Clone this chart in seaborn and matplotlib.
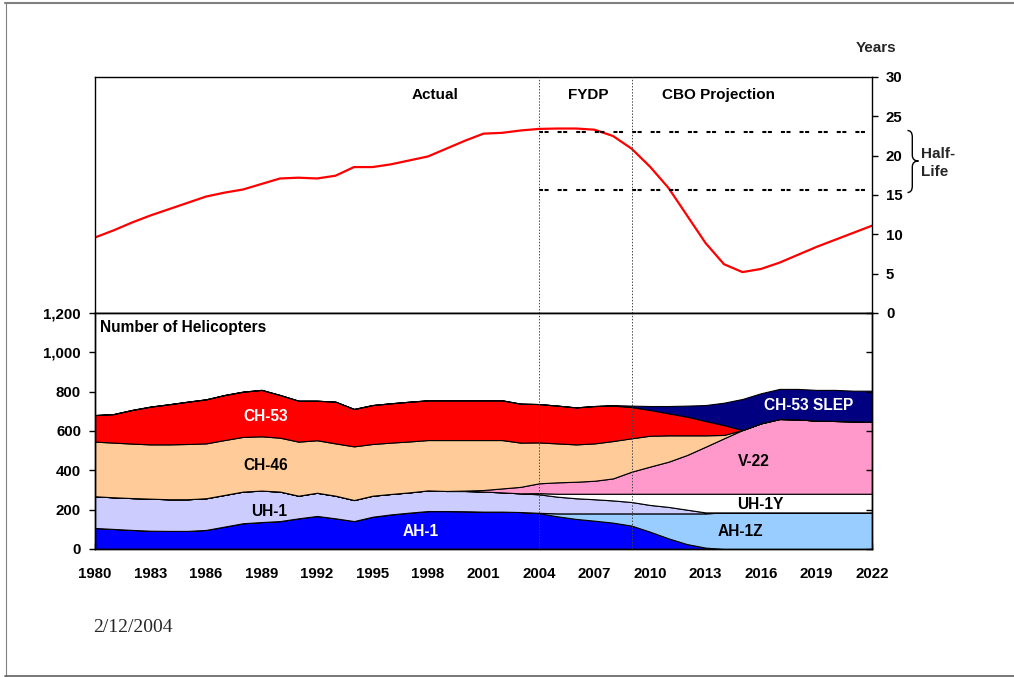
import matplotlib
matplotlib.use("Agg")
import matplotlib.pyplot as plt
import seaborn as sns
from matplotlib.path import Path
from matplotlib.patches import PathPatch
from matplotlib.lines import Line2D
from matplotlib.ticker import FuncFormatter, MultipleLocator

# ---------------- data ----------------
years = list(range(1980, 2023))

half_life = [9.6, 10.5, 11.5, 12.4, 13.2, 14.0, 14.8, 15.3, 15.7, 16.4,
             17.1, 17.2, 17.1, 17.45, 18.55, 18.55, 18.9, 19.4, 19.9, 20.9,
             21.9, 22.8, 22.9, 23.2, 23.4, 23.45, 23.45, 23.3, 22.5, 20.9,
             18.6, 15.9, 12.4, 8.9, 6.2, 5.2, 5.6, 6.4, 7.4, 8.4,
             9.3, 10.2, 11.1]
half_life_band = [15.6, 23.05]
band_years = [2004, 2022]
period_breaks = [2004, 2009]
period_names = ["Actual", "FYDP", "CBO Projection"]

series_names = ["AH-1", "AH-1Z", "UH-1", "UH-1Y", "V-22", "CH-46", "CH-53", "CH-53 SLEP"]
ah1 = [107, 102, 97, 93, 92, 92, 97, 114, 131, 137,
       142, 156, 168, 156, 142, 164, 176, 185, 193, 193,
       192, 190, 190, 188, 182, 166, 153, 144, 134, 119,
       88, 54, 25, 7, 0, 0, 0, 0, 0, 0,
       0, 0, 0]
ah1z = [0] * 24 + [2, 15, 28, 37, 47, 62, 93, 127, 156, 174] + [186] * 9
uh1 = [161, 161, 162, 163, 161, 161, 161, 161, 161, 160,
       150, 115, 118, 115, 107, 107, 104, 103, 105, 102,
       103, 102, 98, 95, 94, 85, 77, 72, 66, 58,
       43, 33, 19, 5, 0, 0, 0, 0, 0, 0,
       0, 0, 0]
uh1y = [0] * 24 + [6, 15, 23, 28, 34, 42, 57, 67, 81, 95] + [95] * 9
v22 = [0] * 20 + [2, 8, 20, 33, 50, 58, 61, 66, 78, 112,
                  138, 163, 197, 239, 282, 324, 358, 380, 378, 372,
                  370, 368, 366]
ch46 = [278, 278, 277, 276, 279, 281, 279, 279, 278, 276,
        274, 275, 267, 266, 273, 263, 261, 259, 256, 259,
        257, 254, 246, 225, 208, 198, 190, 190, 190, 170,
        157, 134, 100, 58, 17, 0, 0, 0, 0, 0,
        0, 0, 0]
ch53 = [135, 145, 171, 192, 204, 215, 224, 229, 230, 236,
        217, 208, 201, 212, 190, 198, 200, 202, 202, 202,
        202, 202, 202, 198, 195, 192, 188, 190, 180, 159,
        131, 112, 95, 73, 50, 0, 0, 0, 0, 0,
        0, 0, 0]
ch53_slep = [0] * 28 + [3, 7, 20, 37, 56, 81, 114, 158, 153, 153, 155, 156, 158, 156, 158]

# ---------------- style ----------------
sns.set_theme(style="white")
plt.rcParams["font.family"] = ["Liberation Sans", "DejaVu Sans"]
plt.rcParams["font.weight"] = "bold"
plt.rcParams["axes.edgecolor"] = "black"
plt.rcParams["axes.linewidth"] = 1.0
plt.rcParams["lines.scale_dashes"] = False

colors = ["#0000FF", "#99CCFF", "#CCCCFF", "#FFFFFF", "#FF99CC", "#FFCC99", "#FF0000", "#000080"]
label_colors = ["white", "black", "black", "black", "black", "black", "white", "white"]
label_pos = [(1997.6, 88), (2014.9, 88), (1989.4, 193), (2015.95, 227),
             (2015.6, 447), (1989.2, 424), (1989.2, 673), (2018.56, 732)]
period_label_x = [1998.4, 2006.65, 2013.7]

W, H = 1014, 677
fig = plt.figure(figsize=(W / 100, H / 100), dpi=100)


def fx(px):
    return px / W


def fy(py):
    return 1 - py / H


ax_top = fig.add_axes([fx(95), fy(313), fx(872) - fx(95), 236 / H])
ax_bot = fig.add_axes([fx(95), fy(549), fx(872) - fx(95), 236 / H])

# ---------------- top panel ----------------
sns.lineplot(x=years, y=half_life, ax=ax_top, color="#FF0000", linewidth=1.6)
for v in half_life_band:
    ax_top.plot(band_years, [v, v], color="black", lw=1.5,
                linestyle=(0, (2.9, 1.1, 2.9, 6.5)))
ax_top.set_xlim(years[0], years[-1])
ax_top.set_ylim(0, 30)
ax_top.set_xticks([])
ax_top.yaxis.set_major_locator(MultipleLocator(5))
ax_top.yaxis.tick_right()
ax_top.tick_params(axis="y", right=True, left=False, labelright=True, labelleft=False,
                   direction="out", length=4, width=1, pad=6, labelsize=10.8,
                   colors="black")
ax_top.set_xlabel("")
ax_top.set_ylabel("")
for s in ax_top.spines.values():
    s.set_visible(True)
    s.set_color("black")

for name, x in zip(period_names, period_label_x):
    ax_top.text(x, 27.7, name, ha="center", va="center", fontsize=11,
                fontweight="bold", color="black")

# ---------------- bottom panel ----------------
ax_bot.stackplot(years, ah1, ah1z, uh1, uh1y, v22, ch46, ch53, ch53_slep,
                 colors=colors, edgecolor="black", linewidth=0.8)
ax_bot.set_xlim(years[0], years[-1])
ax_bot.set_ylim(0, 1200)
ax_bot.yaxis.set_major_locator(MultipleLocator(200))
ax_bot.yaxis.set_major_formatter(FuncFormatter(lambda v, p: f"{int(v):,}"))
ax_bot.xaxis.set_major_locator(MultipleLocator(3))
ax_bot.xaxis.set_minor_locator(MultipleLocator(1))
ax_bot.tick_params(axis="y", left=True, right=False, direction="out", length=4,
                   width=1, pad=6, labelsize=10.8, colors="black")
ax_bot.tick_params(axis="x", which="both", bottom=True, direction="in", length=4,
                   width=1, colors="black")
ax_bot.tick_params(axis="x", which="major", pad=13, labelsize=10.8)
for s in ax_bot.spines.values():
    s.set_visible(True)
    s.set_color("black")

ax_r = ax_bot.twinx()
ax_r.set_ylim(0, 1200)
ax_r.yaxis.set_major_locator(MultipleLocator(200))
ax_r.tick_params(axis="y", right=True, direction="in", length=4, width=1,
                 labelright=False, colors="black")
ax_r.grid(False)

for name, (x, y), c in zip(series_names, label_pos, label_colors):
    ax_bot.text(x, y, name, ha="center", va="center", fontsize=11.2,
                fontweight="bold", color=c)

ax_bot.text(1980.27, 1125, "Number of Helicopters", ha="left", va="center",
            fontsize=11.2, fontweight="bold", color="black")

for ax in (ax_top, ax_bot):
    for b in period_breaks:
        ax.axvline(b, color="#444444", lw=0.7, linestyle=(0, (1, 1.2)), zorder=5)

# ---------------- annotations ----------------
fig.text(fx(876), fy(48), "Years", ha="center", va="center", fontsize=11,
         fontweight="bold")
fig.text(fx(921), fy(163), "Half-\nLife", ha="left", va="center", fontsize=11,
         fontweight="bold", linespacing=1.3)

brace_px = [(907.5, 130.5), (912.3, 130.5), (912.3, 137), (912.3, 155),
            (912.3, 161), (918.5, 161), (912.3, 161), (912.3, 167),
            (912.3, 186), (912.3, 192.5), (907.5, 192.5)]
codes = [Path.MOVETO, Path.CURVE3, Path.CURVE3, Path.LINETO, Path.CURVE3, Path.CURVE3,
         Path.CURVE3, Path.CURVE3, Path.LINETO, Path.CURVE3, Path.CURVE3]
brace = Path([(fx(x), fy(y)) for x, y in brace_px], codes)
fig.add_artist(PathPatch(brace, fill=False, lw=1.0, edgecolor="black",
                         transform=fig.transFigure))

# slide frame
fig.add_artist(Line2D([fx(5), 1], [fy(3), fy(3)], color="#808080", lw=1.5,
                      transform=fig.transFigure))
fig.add_artist(Line2D([fx(5.5), fx(5.5)], [fy(3), fy(677)], color="#808080", lw=0.8,
                      transform=fig.transFigure))
fig.add_artist(Line2D([fx(5), 1], [fy(676), fy(676)], color="#606060", lw=1.2,
                      transform=fig.transFigure))

fig.text(fx(93), fy(628), "2/12/2004", ha="left", va="center", fontsize=14,
         fontweight="normal", family=["Liberation Serif", "DejaVu Serif"])

fig.savefig("out.png", dpi=100)
